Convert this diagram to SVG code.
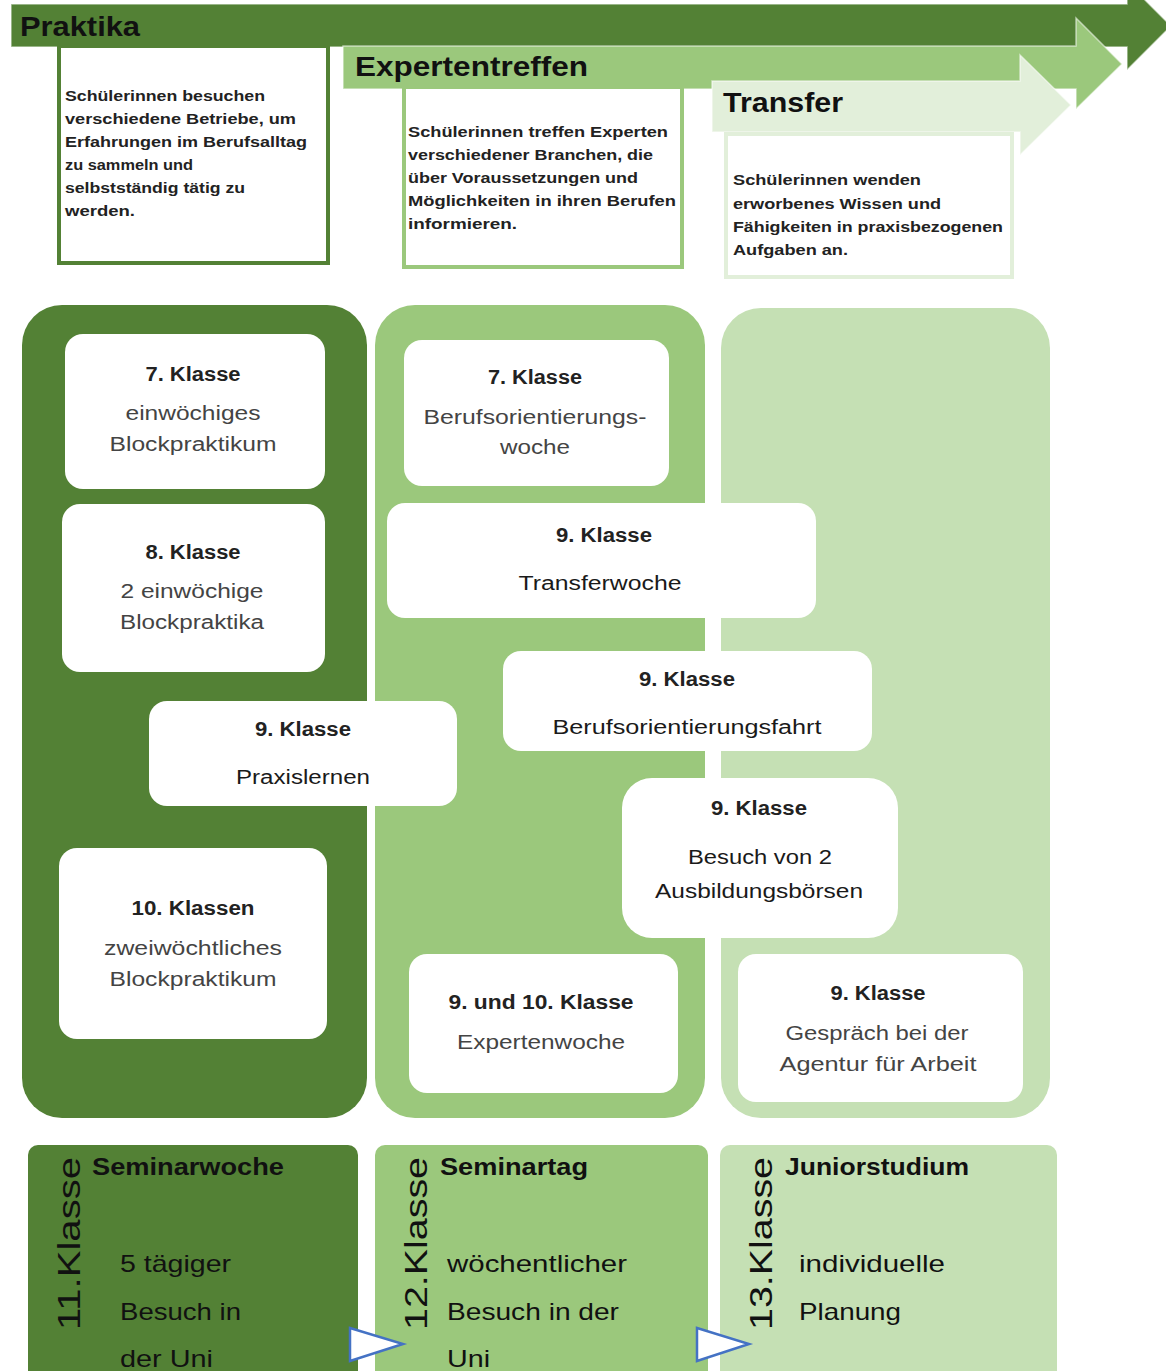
<svg xmlns="http://www.w3.org/2000/svg" width="1166" height="1371" viewBox="0 0 1166 1371">
<style>
.f{font-family:"Liberation Sans",Arial,sans-serif}
.hdr{font-family:"Liberation Sans",Arial,sans-serif;font-size:28px;font-weight:bold;fill:#111}
.desc{font-family:"Liberation Sans",Arial,sans-serif;font-size:14px;font-weight:bold;fill:#222}
.ttl{font-family:"Liberation Sans",Arial,sans-serif;font-size:20px;font-weight:bold;fill:#222;text-anchor:middle}
.bd{font-family:"Liberation Sans",Arial,sans-serif;font-size:20px;fill:#444;text-anchor:middle}
.bk{font-family:"Liberation Sans",Arial,sans-serif;font-size:20px;fill:#1a1a1a;text-anchor:middle}
.card{fill:#ffffff}
.bt{font-family:"Liberation Sans",Arial,sans-serif;font-size:24px;font-weight:bold;fill:#111}
.bb{font-family:"Liberation Sans",Arial,sans-serif;font-size:24px;fill:#111}
.vt{font-family:"Liberation Sans",Arial,sans-serif;font-size:32px;fill:#111}
.arr{stroke:#ffffff;stroke-opacity:0.55;stroke-width:1.5}
</style>
<rect width="1166" height="1371" fill="#ffffff"/>

<!-- top arrows -->
<g id="arrow-praktika">
<polygon class="arr" fill="#538135" points="11,4 1127,4 1127,-18 1171,26 1127,70 1127,47 11,47"/>
<text class="hdr" x="20" y="36" textLength="120" lengthAdjust="spacingAndGlyphs">Praktika</text>
</g>
<g id="box-praktika">
<rect x="59" y="46" width="269" height="217" fill="#ffffff" stroke="#538135" stroke-width="4"/>
<text class="desc" x="65" y="101" textLength="200" lengthAdjust="spacingAndGlyphs">Schülerinnen besuchen</text>
<text class="desc" x="65" y="124" textLength="231" lengthAdjust="spacingAndGlyphs">verschiedene Betriebe, um</text>
<text class="desc" x="65" y="147" textLength="242" lengthAdjust="spacingAndGlyphs">Erfahrungen im Berufsalltag</text>
<text class="desc" x="65" y="170" textLength="128" lengthAdjust="spacingAndGlyphs">zu sammeln und</text>
<text class="desc" x="65" y="193" textLength="180" lengthAdjust="spacingAndGlyphs">selbstständig tätig zu</text>
<text class="desc" x="65" y="216" textLength="70" lengthAdjust="spacingAndGlyphs">werden.</text>
</g>

<g id="arrow-expertentreffen">
<polygon class="arr" fill="#9bc87c" points="343,46 1076,46 1076,18 1122,64 1076,109 1076,89 343,89"/>
<text class="hdr" x="355" y="76" textLength="233" lengthAdjust="spacingAndGlyphs">Expertentreffen</text>
</g>
<g id="box-expertentreffen">
<rect x="404" y="87" width="278" height="180" fill="#ffffff" stroke="#9bc87c" stroke-width="4"/>
<text class="desc" x="408" y="137" textLength="260" lengthAdjust="spacingAndGlyphs">Schülerinnen treffen Experten</text>
<text class="desc" x="408" y="160" textLength="245" lengthAdjust="spacingAndGlyphs">verschiedener Branchen, die</text>
<text class="desc" x="408" y="183" textLength="230" lengthAdjust="spacingAndGlyphs">über Voraussetzungen und</text>
<text class="desc" x="408" y="206" textLength="268" lengthAdjust="spacingAndGlyphs">Möglichkeiten in ihren Berufen</text>
<text class="desc" x="408" y="229" textLength="109" lengthAdjust="spacingAndGlyphs">informieren.</text>
</g>

<g id="arrow-transfer">
<polygon class="arr" fill="#e2efda" points="712,81 1020,81 1020,55 1071,105 1020,155 1020,132 712,132"/>
<text class="hdr" x="723" y="112" textLength="120" lengthAdjust="spacingAndGlyphs">Transfer</text>
</g>
<g id="box-transfer">
<rect x="726" y="134" width="286" height="143" fill="#ffffff" stroke="#e2efda" stroke-width="4"/>
<text class="desc" x="733" y="185" textLength="188" lengthAdjust="spacingAndGlyphs">Schülerinnen wenden</text>
<text class="desc" x="733" y="209" textLength="208" lengthAdjust="spacingAndGlyphs">erworbenes Wissen und</text>
<text class="desc" x="733" y="232" textLength="270" lengthAdjust="spacingAndGlyphs">Fähigkeiten in praxisbezogenen</text>
<text class="desc" x="733" y="255" textLength="115" lengthAdjust="spacingAndGlyphs">Aufgaben an.</text>
</g>

<!-- columns -->
<g id="col-praktika"><rect x="22" y="305" width="345" height="813" rx="40" fill="#538135"/></g>
<g id="col-experten"><rect x="375" y="305" width="330" height="813" rx="40" fill="#9bc87c"/></g>
<g id="col-transfer"><rect x="721" y="308" width="329" height="810" rx="40" fill="#c5e0b4"/></g>

<!-- cards -->
<g id="p7">
<rect class="card" x="65" y="334" width="260" height="155" rx="18"/>
<text class="ttl" x="193" y="381" textLength="95" lengthAdjust="spacingAndGlyphs">7. Klasse</text>
<text class="bd" x="193" y="420" textLength="135" lengthAdjust="spacingAndGlyphs">einwöchiges</text>
<text class="bd" x="193" y="451" textLength="167" lengthAdjust="spacingAndGlyphs">Blockpraktikum</text>
</g>
<g id="p8">
<rect class="card" x="62" y="504" width="263" height="168" rx="18"/>
<text class="ttl" x="193" y="559" textLength="95" lengthAdjust="spacingAndGlyphs">8. Klasse</text>
<text class="bd" x="192" y="598" textLength="143" lengthAdjust="spacingAndGlyphs">2 einwöchige</text>
<text class="bd" x="192" y="629" textLength="144" lengthAdjust="spacingAndGlyphs">Blockpraktika</text>
</g>
<g id="p9">
<rect class="card" x="149" y="701" width="308" height="105" rx="18"/>
<text class="ttl" x="303" y="736" textLength="96" lengthAdjust="spacingAndGlyphs">9. Klasse</text>
<text class="bk" x="303" y="784" textLength="134" lengthAdjust="spacingAndGlyphs">Praxislernen</text>
</g>
<g id="p10">
<rect class="card" x="59" y="848" width="268" height="191" rx="18"/>
<text class="ttl" x="193" y="915" textLength="123" lengthAdjust="spacingAndGlyphs">10. Klassen</text>
<text class="bd" x="193" y="955" textLength="178" lengthAdjust="spacingAndGlyphs">zweiwöchtliches</text>
<text class="bd" x="193" y="986" textLength="167" lengthAdjust="spacingAndGlyphs">Blockpraktikum</text>
</g>
<g id="e7">
<rect class="card" x="404" y="340" width="265" height="146" rx="18"/>
<text class="ttl" x="535" y="384" textLength="94" lengthAdjust="spacingAndGlyphs">7. Klasse</text>
<text class="bd" x="535" y="424" textLength="223" lengthAdjust="spacingAndGlyphs">Berufsorientierungs-</text>
<text class="bd" x="535" y="454" textLength="70" lengthAdjust="spacingAndGlyphs">woche</text>
</g>
<g id="t9-transferwoche">
<rect class="card" x="387" y="503" width="429" height="115" rx="18"/>
<text class="ttl" x="604" y="542" textLength="96" lengthAdjust="spacingAndGlyphs">9. Klasse</text>
<text class="bk" x="600" y="590" textLength="163" lengthAdjust="spacingAndGlyphs">Transferwoche</text>
</g>
<g id="e9-fahrt">
<rect class="card" x="503" y="651" width="369" height="100" rx="18"/>
<text class="ttl" x="687" y="686" textLength="96" lengthAdjust="spacingAndGlyphs">9. Klasse</text>
<text class="bk" x="687" y="734" textLength="269" lengthAdjust="spacingAndGlyphs">Berufsorientierungsfahrt</text>
</g>
<g id="e9-boersen">
<rect class="card" x="622" y="778" width="276" height="160" rx="30"/>
<text class="ttl" x="759" y="815" textLength="96" lengthAdjust="spacingAndGlyphs">9. Klasse</text>
<text class="bk" x="760" y="864" textLength="144" lengthAdjust="spacingAndGlyphs">Besuch von 2</text>
<text class="bk" x="759" y="898" textLength="208" lengthAdjust="spacingAndGlyphs">Ausbildungsbörsen</text>
</g>
<g id="e910">
<rect class="card" x="409" y="954" width="269" height="139" rx="18"/>
<text class="ttl" x="541" y="1009" textLength="185" lengthAdjust="spacingAndGlyphs">9. und 10. Klasse</text>
<text class="bd" x="541" y="1049" textLength="168" lengthAdjust="spacingAndGlyphs">Expertenwoche</text>
</g>
<g id="t9-agentur">
<rect class="card" x="738" y="954" width="285" height="148" rx="18"/>
<text class="ttl" x="878" y="1000" textLength="95" lengthAdjust="spacingAndGlyphs">9. Klasse</text>
<text class="bd" x="877" y="1040" textLength="183" lengthAdjust="spacingAndGlyphs">Gespräch bei der</text>
<text class="bd" x="878" y="1071" textLength="197" lengthAdjust="spacingAndGlyphs">Agentur für Arbeit</text>
</g>

<!-- bottom row -->
<g id="k11">
<rect x="28" y="1145" width="330" height="240" rx="10" fill="#538135"/>
<text class="vt" transform="translate(80,1330) rotate(-90)" textLength="173" lengthAdjust="spacingAndGlyphs">11.Klasse</text>
<text class="bt" x="92" y="1175" textLength="192" lengthAdjust="spacingAndGlyphs">Seminarwoche</text>
<text class="bb" x="120" y="1272" textLength="111" lengthAdjust="spacingAndGlyphs">5 tägiger</text>
<text class="bb" x="120" y="1320" textLength="121" lengthAdjust="spacingAndGlyphs">Besuch in</text>
<text class="bb" x="120" y="1367" textLength="93" lengthAdjust="spacingAndGlyphs">der Uni</text>
</g>
<g id="k12">
<rect x="375" y="1145" width="333" height="240" rx="10" fill="#9bc87c"/>
<text class="vt" transform="translate(427,1330) rotate(-90)" textLength="173" lengthAdjust="spacingAndGlyphs">12.Klasse</text>
<text class="bt" x="440" y="1175" textLength="148" lengthAdjust="spacingAndGlyphs">Seminartag</text>
<text class="bb" x="447" y="1272" textLength="180" lengthAdjust="spacingAndGlyphs">wöchentlicher</text>
<text class="bb" x="447" y="1320" textLength="172" lengthAdjust="spacingAndGlyphs">Besuch in der</text>
<text class="bb" x="447" y="1367" textLength="43" lengthAdjust="spacingAndGlyphs">Uni</text>
</g>
<g id="k13">
<rect x="720" y="1145" width="337" height="240" rx="10" fill="#c5e0b4"/>
<text class="vt" transform="translate(772,1330) rotate(-90)" textLength="173" lengthAdjust="spacingAndGlyphs">13.Klasse</text>
<text class="bt" x="785" y="1175" textLength="184" lengthAdjust="spacingAndGlyphs">Juniorstudium</text>
<text class="bb" x="799" y="1272" textLength="146" lengthAdjust="spacingAndGlyphs">individuelle</text>
<text class="bb" x="799" y="1320" textLength="102" lengthAdjust="spacingAndGlyphs">Planung</text>
</g>

<g id="connectors" fill="#ffffff" stroke="#4472c4" stroke-width="2.5" stroke-linejoin="miter">
<polygon points="350,1328 403,1344 350,1361"/>
<polygon points="697,1328 749,1344 697,1361"/>
</g>
</svg>
